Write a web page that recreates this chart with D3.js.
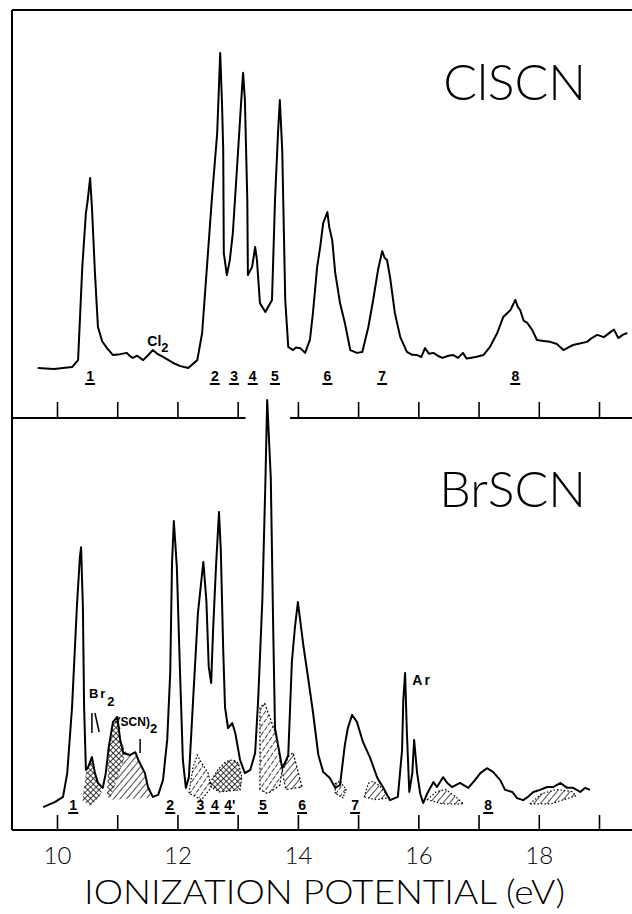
<!DOCTYPE html>
<html lang="en">
<head>
<meta charset="utf-8">
<title>ClSCN / BrSCN photoelectron spectra</title>
<script src="https://d3js.org/d3.v7.min.js"></script>
<style>
  body { margin: 0; background: #fff; }
  .lbl { font-family: "Liberation Sans", Arial, sans-serif; font-weight: bold; fill: #000; }
  .big { font-family: Lato, "DejaVu Sans", sans-serif; font-weight: 300; fill: #000; }
</style>
</head>
<body>
<script>
var width = 632, height = 914;

// IP axis
var ipTicks = [10, 11, 12, 13, 14, 15, 16, 17, 18, 19];
var ipTickLabels = {10: "10", 12: "12", 14: "14", 16: "16", 18: "18"};

// ClSCN trace: [ionization potential (eV), relative intensity]
var clscnSpectrum = [
  [9.68,0],[9.95,-0.3],[10.25,0.3],[10.35,2.5],[10.42,32.1],[10.48,49.2],[10.51,53.3],[10.55,60.3],
  [10.58,51.1],[10.63,30.2],[10.68,13.0],[10.75,8.5],[10.83,6.3],[10.93,4.1],[11.05,4.4],[11.16,4.8],
  [11.21,3.8],[11.26,3.2],[11.33,3.9],[11.43,2.5],[11.52,4.2],[11.59,5.7],[11.66,4.6],[11.76,3.5],
  [11.93,1.6],[12.05,0.6],[12.18,0],[12.33,2.5],[12.41,11.1],[12.49,32.1],[12.57,53.3],[12.66,74.6],
  [12.71,100],[12.74,84],[12.76,69.2],[12.77,36.5],[12.82,29.5],[12.87,34.3],[12.92,42.9],[12.99,63.8],
  [13.06,85.1],[13.09,93.7],[13.12,85.1],[13.16,53.3],[13.17,29.5],[13.24,32.1],[13.29,38.4],[13.32,34.3],
  [13.37,20.6],[13.46,17.8],[13.57,21.6],[13.62,53.3],[13.67,74.6],[13.70,85.1],[13.74,69.2],[13.79,21.6],
  [13.84,6.7],[13.92,5.7],[13.97,6.5],[14.04,6.3],[14.12,4.8],[14.20,8.9],[14.25,17.5],[14.32,32.1],
  [14.37,38.4],[14.42,46.0],[14.49,49.5],[14.52,44.8],[14.57,40.6],[14.62,30.2],[14.70,20.6],[14.78,14.3],
  [14.87,5.7],[14.98,4.8],[15.07,5.1],[15.17,13.0],[15.25,21.6],[15.33,31.1],[15.40,37.1],[15.44,35.0],
  [15.48,34.3],[15.53,28.9],[15.61,17.5],[15.70,9.8],[15.81,5.1],[15.90,4.2],[15.98,4.1],[16.05,3.5],
  [16.11,6.3],[16.18,4.5],[16.25,4.8],[16.33,3.8],[16.40,3.2],[16.50,3.9],[16.58,4.1],[16.66,3.2],
  [16.74,4.8],[16.80,3.0],[16.86,3.2],[16.97,3.6],[17.08,4.1],[17.19,6.7],[17.31,11.1],[17.41,16.2],
  [17.53,18.4],[17.61,21.6],[17.65,19.5],[17.69,18.4],[17.75,15.0],[17.81,14.3],[17.89,12.1],[17.97,8.9],
  [18.08,8.6],[18.19,8.3],[18.30,7.6],[18.41,5.7],[18.50,6.6],[18.57,7.3],[18.68,7.8],[18.80,8.3],
  [18.88,9.5],[18.97,10.5],[19.08,9.8],[19.19,11.4],[19.25,12.2],[19.32,9.5],[19.40,10.6],[19.47,11.1]
];

// BrSCN trace
var brscnSpectrum = [
  [9.77,0.7],[9.97,2.0],[10.10,3.2],[10.17,9.0],[10.25,25.1],[10.33,49.5],[10.38,61.7],[10.40,64.1],
  [10.43,49.5],[10.45,25.1],[10.48,9.8],[10.51,10.2],[10.58,12.9],[10.63,9.0],[10.68,6.6],[10.76,5.4],
  [10.81,9.0],[10.86,15.4],[10.93,21.5],[11.00,22.7],[11.05,17.1],[11.10,13.9],[11.21,13.4],[11.30,14.1],
  [11.35,12.2],[11.46,9.0],[11.51,5.6],[11.59,3.2],[11.68,3.7],[11.76,7.3],[11.83,17.1],[11.88,33.4],
  [11.91,60.2],[11.94,70.5],[11.99,59.3],[12.04,34.9],[12.09,12.2],[12.14,5.4],[12.19,8.0],[12.26,26.8],
  [12.34,48.0],[12.41,57.8],[12.43,60.5],[12.48,51.2],[12.52,34.9],[12.56,31.0],[12.59,43.2],[12.64,59.3],
  [12.69,72.7],[12.72,63.4],[12.76,39.0],[12.79,25.1],[12.84,20.0],[12.91,21.2],[12.96,18.8],[13.04,12.2],
  [13.12,9.0],[13.21,9.8],[13.29,13.9],[13.34,26.8],[13.41,51.2],[13.46,79.8],[13.49,100],[13.55,81.0],
  [13.59,44.4],[13.62,20.0],[13.67,15.9],[13.74,10.2],[13.79,11.7],[13.84,13.4],[13.90,36.1],[13.95,44.4],
  [14.00,50.7],[14.09,40.2],[14.17,32.2],[14.25,23.9],[14.34,13.4],[14.42,9.3],[14.53,7.8],[14.62,5.4],
  [14.70,6.1],[14.78,15.9],[14.83,20.0],[14.90,23.2],[14.98,21.5],[15.08,16.6],[15.20,12.7],[15.32,7.8],
  [15.42,5.4],[15.53,2.4],[15.66,3.2],[15.73,14.6],[15.75,26.8],[15.78,33.4],[15.81,18.8],[15.85,4.4],
  [15.90,9.0],[15.93,17.1],[15.98,9.0],[16.03,4.1],[16.08,1.7],[16.15,4.1],[16.25,6.8],[16.31,5.6],
  [16.41,8.0],[16.48,6.6],[16.56,5.6],[16.69,6.6],[16.83,5.4],[16.94,7.3],[17.03,9.0],[17.14,10.2],
  [17.24,9.3],[17.36,7.3],[17.44,4.9],[17.56,4.4],[17.64,2.9],[17.74,2.4],[17.82,3.2],[17.91,4.4],
  [18.02,4.9],[18.14,5.6],[18.24,5.6],[18.36,6.6],[18.47,5.4],[18.57,5.4],[18.69,4.4],[18.77,5.4],[18.85,4.9]
];

// band assignments
var clscnBands = [["1",10.55],["2",12.62],["3",12.94],["4",13.25],["5",13.62],["6",14.49],["7",15.40],["8",17.61]];
var brscnBands = [["1",10.27],["2",11.88],["3",12.38],["4",12.62],["4'",12.87],["5",13.42],["6",14.07],["7",14.95],["8",17.16]];

// shaded deconvolution areas under the BrSCN trace
var br2Area = [[10.42,2.4],[10.49,9.8],[10.53,10.5],[10.58,12.9],[10.63,9.0],[10.68,6.6],[10.76,5.0],[10.70,3.0],[10.55,1.0]];
var scn2PeakArea = [[10.83,3.5],[10.86,15.4],[10.93,21.5],[11.00,22.7],[11.05,17.1],[11.15,14.0],[10.88,2.5]];
var scn2TailArea = [[10.88,2.5],[11.15,14.0],[11.21,13.4],[11.30,14.1],[11.35,12.2],[11.46,9.0],[11.51,5.6],[11.59,3.0]];
var band3Area = [[12.19,4.1],[12.26,10.5],[12.33,13.4],[12.42,11.0],[12.51,9.0],[12.56,5.5],[12.40,2.5]];
var band4Area = [[12.54,6.6],[12.67,9.8],[12.78,11.5],[12.87,12.2],[12.96,12.0],[13.01,11.5],[13.07,8.0],[13.04,4.9],[12.70,4.4],[12.56,5.5]];
var band5Area = [[13.37,5],[13.37,25],[13.45,26],[13.55,22],[13.62,19],[13.67,15.5],[13.74,10.0],[13.70,6],[13.50,4]];
var band6Area = [[13.74,9.3],[13.84,13.0],[13.92,14.0],[14.07,5.6],[13.80,5.0]];
var band7Area = [[14.62,6.5],[14.70,7.0],[14.80,5.0],[14.75,3.0],[14.62,4.0]];
var band7TailArea = [[15.10,3.2],[15.17,6.5],[15.25,7.0],[15.35,6.0],[15.52,3.0],[15.30,2.5]];
var arTailArea = [[16.15,2.5],[16.30,4.5],[16.45,5.0],[16.60,3.5],[16.75,1.5],[16.40,1.5]];
var highArea = [[17.85,1.5],[18.05,4.0],[18.30,5.0],[18.55,4.5],[18.62,3.5],[18.20,1.5]];

// layout
var frameLeft = 12, frameTop = 10, midAxisY = 418, bottomAxisY = 830;

var svg = d3.select("body").append("svg")
            .attr("width", width)
            .attr("height", height);

var x = d3.scaleLinear().domain([10, 19]).range([57, 599]);
var yTop = d3.scaleLinear().domain([0, 100]).range([368, 53]);
var yBot = d3.scaleLinear().domain([0, 100]).range([810, 400]);

// patterns for the shaded areas
var defs = svg.append("defs");
var ph = defs.append("pattern").attr("id", "hatch").attr("patternUnits", "userSpaceOnUse")
             .attr("width", 5).attr("height", 5).attr("patternTransform", "rotate(40)");
ph.append("line").attr("x1", 0).attr("y1", 0).attr("x2", 0).attr("y2", 5)
  .attr("stroke", "#000").attr("stroke-width", 1.4);
var pd = defs.append("pattern").attr("id", "dhatch").attr("patternUnits", "userSpaceOnUse")
             .attr("width", 5).attr("height", 6).attr("patternTransform", "rotate(35)");
pd.append("line").attr("x1", 0).attr("y1", 0).attr("x2", 0).attr("y2", 6)
  .attr("stroke", "#000").attr("stroke-width", 1.5).attr("stroke-dasharray", "2.5,1.5");
var pc = defs.append("pattern").attr("id", "cross").attr("patternUnits", "userSpaceOnUse")
             .attr("width", 4).attr("height", 4).attr("patternTransform", "rotate(45)");
pc.append("line").attr("x1", 0).attr("y1", 0).attr("x2", 0).attr("y2", 4)
  .attr("stroke", "#000").attr("stroke-width", 1.5);
pc.append("line").attr("x1", 0).attr("y1", 0).attr("x2", 4).attr("y2", 0)
  .attr("stroke", "#000").attr("stroke-width", 1.5);

// frame
var frame = svg.append("g").attr("stroke", "#000").attr("stroke-width", 2).attr("fill", "none");
frame.append("line").attr("x1", frameLeft).attr("y1", frameTop).attr("x2", frameLeft).attr("y2", bottomAxisY);
frame.append("line").attr("x1", frameLeft).attr("y1", frameTop).attr("x2", width).attr("y2", frameTop);
frame.append("line").attr("x1", frameLeft).attr("y1", bottomAxisY).attr("x2", width).attr("y2", bottomAxisY);
// middle axis is broken to let the BrSCN band 5 through
frame.append("line").attr("x1", frameLeft).attr("y1", midAxisY).attr("x2", x(13.13)).attr("y2", midAxisY);
frame.append("line").attr("x1", x(13.87)).attr("y1", midAxisY).attr("x2", width).attr("y2", midAxisY);

// axes
svg.append("g")
   .attr("transform", "translate(0," + midAxisY + ")")
   .call(d3.axisBottom(x).tickValues(ipTicks).tickSize(-16).tickFormat(""))
   .call(g => g.select(".domain").remove())
   .call(g => g.selectAll(".tick line").attr("stroke-width", 1.6));

svg.append("g")
   .attr("transform", "translate(0," + bottomAxisY + ")")
   .call(d3.axisBottom(x).tickValues(ipTicks).tickSize(-15).tickPadding(17)
           .tickFormat(d => ipTickLabels[d] || ""))
   .call(g => g.select(".domain").remove())
   .call(g => g.selectAll(".tick line").attr("stroke-width", 1.6))
   .call(g => g.selectAll(".tick text").attr("class", "big").attr("font-size", 24));

svg.append("text")
   .attr("class", "big")
   .attr("x", 84).attr("y", 904)
   .attr("font-size", 33)
   .attr("textLength", 481).attr("lengthAdjust", "spacingAndGlyphs")
   .text("IONIZATION POTENTIAL (eV)");

// shaded areas (below the trace)
var area = d3.line().x(d => x(d[0])).y(d => yBot(d[1])).curve(d3.curveLinearClosed);
var shaded = [
  {pts: br2Area, fill: "url(#cross)", dash: null},
  {pts: scn2PeakArea, fill: "url(#cross)", dash: null},
  {pts: scn2TailArea, fill: "url(#hatch)", dash: null},
  {pts: band3Area, fill: "url(#dhatch)", dash: "1.5,2"},
  {pts: band4Area, fill: "url(#cross)", dash: "1.5,2"},
  {pts: band5Area, fill: "url(#dhatch)", dash: "2,2"},
  {pts: band6Area, fill: "url(#hatch)", dash: "2,2"},
  {pts: band7Area, fill: "url(#dhatch)", dash: "1.5,1.5"},
  {pts: band7TailArea, fill: "url(#hatch)", dash: "1.5,2"},
  {pts: arTailArea, fill: "url(#hatch)", dash: "1.5,2"},
  {pts: highArea, fill: "url(#hatch)", dash: "1.5,2"}
];
svg.append("g").selectAll("path")
   .data(shaded)
   .join("path")
   .attr("d", d => area(d.pts))
   .attr("fill", d => d.fill)
   .attr("stroke", d => d.dash ? "#000" : "none")
   .attr("stroke-width", 1.2)
   .attr("stroke-dasharray", d => d.dash);

// traces
var topLine = d3.line().x(d => x(d[0])).y(d => yTop(d[1]));
var botLine = d3.line().x(d => x(d[0])).y(d => yBot(d[1]));

svg.append("path")
   .attr("d", topLine(clscnSpectrum))
   .attr("fill", "none").attr("stroke", "#000")
   .attr("stroke-width", 2).attr("stroke-linejoin", "round");

svg.append("path")
   .attr("d", botLine(brscnSpectrum))
   .attr("fill", "none").attr("stroke", "#000")
   .attr("stroke-width", 2).attr("stroke-linejoin", "round");

// molecule names
svg.append("text").attr("class", "big").attr("x", 586).attr("y", 100)
   .attr("text-anchor", "end").attr("font-size", 50).text("ClSCN");
svg.append("text").attr("class", "big").attr("x", 586).attr("y", 507)
   .attr("text-anchor", "end").attr("font-size", 50).text("BrSCN");

// underlined band numbers
function bandLabels(bands, baseY) {
  var g = svg.append("g");
  var gs = g.selectAll("g").data(bands).join("g")
            .attr("transform", d => "translate(" + x(d[1]) + "," + baseY + ")");
  gs.append("text").attr("class", "lbl").attr("font-size", 14)
    .attr("text-anchor", "middle").text(d => d[0]);
  gs.append("line").attr("x1", -5).attr("x2", 5).attr("y1", 3).attr("y2", 3)
    .attr("stroke", "#000").attr("stroke-width", 2);
}
bandLabels(clscnBands, 381);
bandLabels(brscnBands, 810);

// impurity labels
var cl2 = svg.append("text").attr("class", "lbl").attr("font-size", 14)
             .attr("x", x(11.50)).attr("y", 346);
cl2.append("tspan").text("Cl");
cl2.append("tspan").attr("dy", 6).attr("font-size", 13).text("2");

var br2 = svg.append("text").attr("class", "lbl").attr("font-size", 13)
             .attr("x", x(10.53)).attr("y", 698).attr("letter-spacing", 2);
br2.append("tspan").text("Br");
br2.append("tspan").attr("dy", 8).text("2");

var scn2 = svg.append("text").attr("class", "lbl").attr("font-size", 12)
              .attr("x", x(10.99)).attr("y", 726);
scn2.append("tspan").text("(SCN)");
scn2.append("tspan").attr("dy", 7).attr("font-size", 13).text("2");

svg.append("text").attr("class", "lbl").attr("font-size", 14)
   .attr("x", x(15.90)).attr("y", 685).attr("letter-spacing", 2).text("Ar");

// pointer marks for Br2 and (SCN)2
var marks = svg.append("g").attr("stroke", "#000").attr("stroke-width", 1.5);
marks.append("line").attr("x1", x(10.58)).attr("y1", 713).attr("x2", x(10.58)).attr("y2", 733);
marks.append("line").attr("x1", x(10.63)).attr("y1", 713).attr("x2", x(10.70)).attr("y2", 732);
marks.append("line").attr("x1", x(11.38)).attr("y1", 739).attr("x2", x(11.38)).attr("y2", 753);
</script>
</body>
</html>
